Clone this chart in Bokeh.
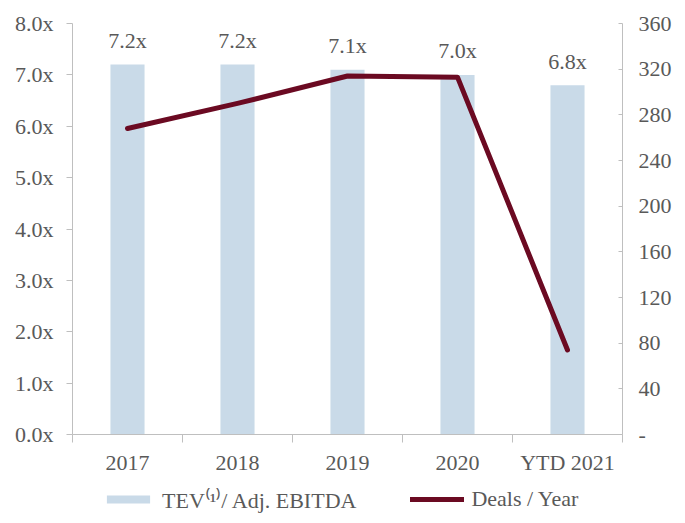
from bokeh.plotting import figure
from bokeh.layouts import column
from bokeh.models import (Range1d, LinearAxis, FixedTicker, CustomJSTickFormatter,
                          ColumnDataSource, Legend, LegendItem)
from bokeh.core.properties import value
from bokeh.embed import file_html
from bokeh.resources import INLINE

categories = ["2017", "2018", "2019", "2020", "YTD 2021"]
multiples = [7.2, 7.2, 7.1, 7.0, 6.8]
deals = [268, 290, 314, 313, 74]
left_ticks = [0, 1, 2, 3, 4, 5, 6, 7, 8]
right_ticks = [0, 40, 80, 120, 160, 200, 240, 280, 320, 360]
series_names = ["TEV\u207d\u00b9\u207e/ Adj. EBITDA", "Deals / Year"]

FONT = "Liberation Serif"
TXT = "#595959"
AX = "#BFBFBF"
BAR = "#C9DAE8"
LINE = "#6B0A22"

xpos = [i + 0.5 for i in range(len(categories))]
src = ColumnDataSource(dict(x=xpos, m=multiples, d=deals,
                            lbl=[f"{v:.1f}x" for v in multiples]))

p = figure(width=677, height=487, output_backend="svg", toolbar_location=None,
           x_range=Range1d(0, len(categories)), y_range=Range1d(0, 8),
           min_border_left=72, min_border_right=55, min_border_top=23,
           min_border_bottom=53)
p.outline_line_color = None
p.xgrid.visible = False
p.ygrid.visible = False
p.background_fill_color = "white"
p.border_fill_color = "white"

p.extra_y_ranges = {"deals": Range1d(0, 360)}

bars = p.vbar(x="x", top="m", width=0.31, source=src, fill_color=BAR, line_color=None)
line = p.line(x="x", y="d", source=src, y_range_name="deals", line_color=LINE,
              line_width=5, line_cap="round", line_join="round")

p.text(x="x", y="m", text="lbl", source=src, text_font=value(FONT),
       text_font_size="22px", text_color=TXT, text_align="center",
       text_baseline="alphabetic", y_offset=-24)

# x axis
xa = p.xaxis[0]
xa.ticker = FixedTicker(ticks=xpos, minor_ticks=list(range(len(categories) + 1)))
xa.major_label_overrides = {x: c for x, c in zip(xpos, categories)}
xa.major_tick_line_color = None
xa.major_tick_out = 0
xa.minor_tick_out = 8
xa.minor_tick_in = 0
xa.minor_tick_line_color = AX
xa.axis_line_color = AX
xa.major_label_text_font = FONT
xa.major_label_text_font_size = "22px"
xa.major_label_text_color = TXT
xa.major_label_standoff = 7

# left axis
ya = p.yaxis[0]
ya.ticker = FixedTicker(ticks=left_ticks)
ya.formatter = CustomJSTickFormatter(code="return tick.toFixed(1) + 'x';")
ya.major_tick_out = 6
ya.major_tick_in = 0
ya.minor_tick_line_color = None
ya.major_tick_line_color = AX
ya.axis_line_color = AX
ya.major_label_text_font = FONT
ya.major_label_text_font_size = "22px"
ya.major_label_text_color = TXT
ya.major_label_standoff = 13

# right axis
ra = LinearAxis(y_range_name="deals")
ra.ticker = FixedTicker(ticks=right_ticks)
ra.formatter = CustomJSTickFormatter(code="return tick == 0 ? '-' : tick.toFixed(0);")
ra.major_tick_out = 0
ra.major_tick_in = 4
ra.minor_tick_line_color = None
ra.major_tick_line_color = AX
ra.axis_line_color = AX
ra.major_label_text_font = FONT
ra.major_label_text_font_size = "22px"
ra.major_label_text_color = TXT
ra.major_label_standoff = 16
p.add_layout(ra, "right")

# legend strip (separate figure so the legend is not clipped by the main frame);
# its ranges keep the series' own marks out of view, only the legend shows
lg = figure(width=677, height=28, output_backend="svg", toolbar_location=None,
            x_range=Range1d(100, 101), y_range=Range1d(1000, 1001),
            min_border=0, min_border_left=0, min_border_right=0,
            min_border_top=0, min_border_bottom=0)
lg.axis.visible = False
lg.xgrid.visible = False
lg.ygrid.visible = False
lg.outline_line_color = None
lbar = lg.vbar(x="x", top="m", width=0.31, source=src, fill_color=BAR, line_color=None)
lline = lg.line(x="x", y="d", source=src, line_color=LINE, line_width=5, line_cap="round")

legend = Legend(items=[LegendItem(label=series_names[0], renderers=[lbar]),
                       LegendItem(label=series_names[1], renderers=[lline])],
                orientation="horizontal", location=(29, 1),
                glyph_width=54, glyph_height=10, label_height=26,
                label_standoff=7, spacing=54, padding=0, margin=0,
                border_line_color=None, background_fill_alpha=0,
                label_text_font=FONT, label_text_font_size="22px",
                label_text_color=TXT)
lg.add_layout(legend, "center")

layout = column(p, lg, spacing=0)
open("out.html", "w").write(file_html(layout, INLINE))
